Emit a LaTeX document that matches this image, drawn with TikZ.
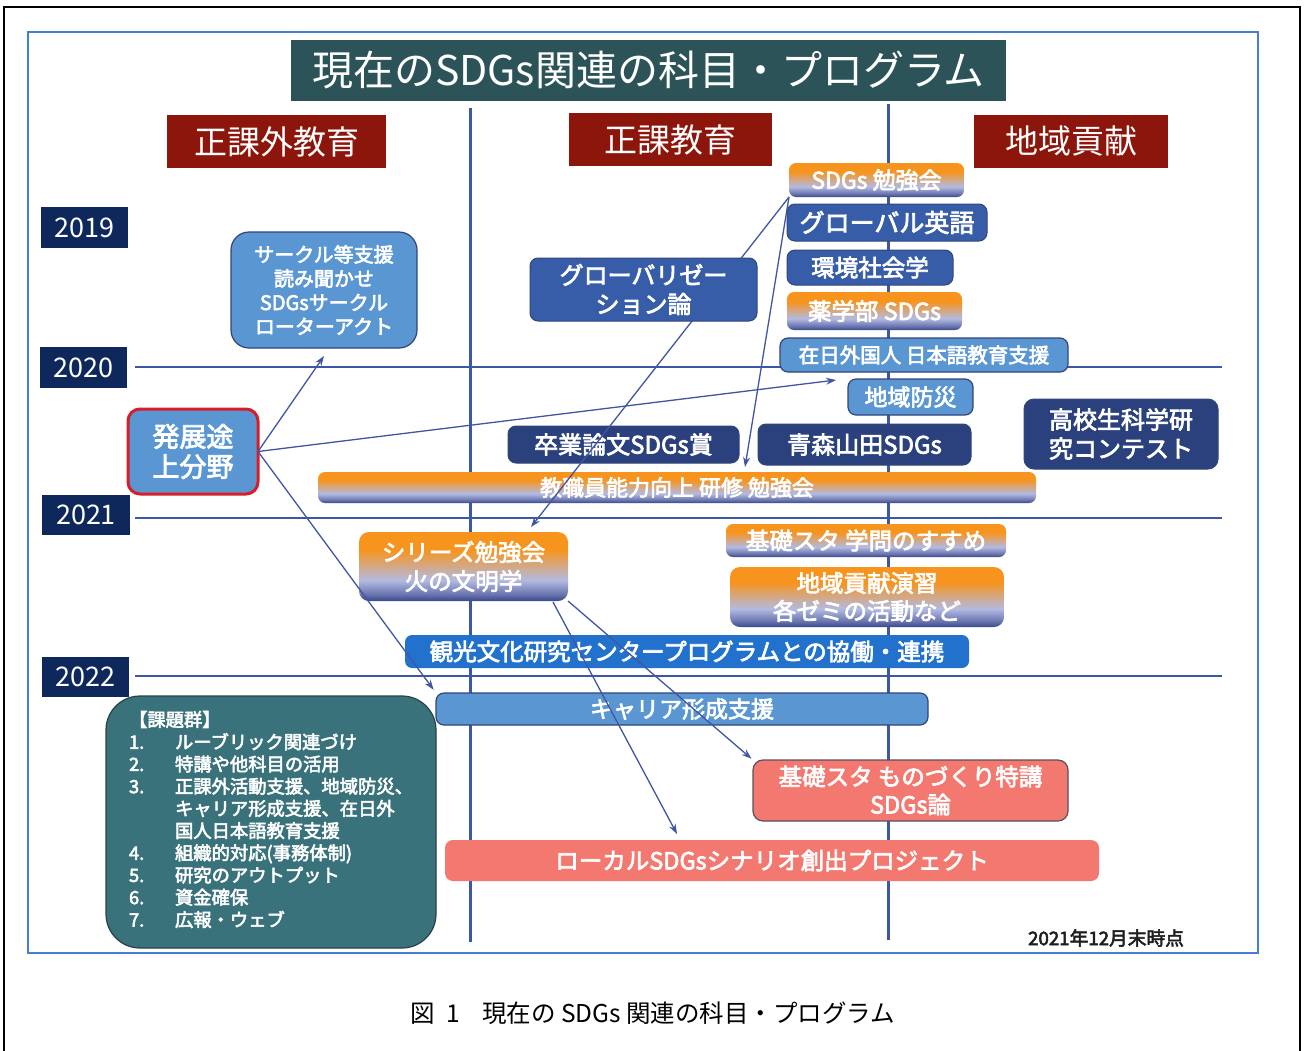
\documentclass[tikz,border=0pt]{standalone}
\usepackage{fontspec}
\setmainfont{Noto Sans CJK JP}
\newfontfamily\medfont{Noto Sans CJK JP}[FakeBold=3]
\usetikzlibrary{arrows.meta}
\definecolor{titlec}{RGB}{44,83,87}
\definecolor{hdrc}{RGB}{140,22,12}
\definecolor{yrc}{RGB}{14,40,92}
\definecolor{lblue}{RGB}{90,150,210}
\definecolor{mblue}{RGB}{55,92,168}
\definecolor{navyb}{RGB}{42,65,125}
\definecolor{kankoc}{RGB}{34,114,205}
\definecolor{kadaic}{RGB}{58,114,124}
\definecolor{salmonc}{RGB}{242,120,112}
\definecolor{bordc}{RGB}{50,70,120}
\definecolor{linec}{RGB}{60,88,165}
\definecolor{arrc}{RGB}{65,85,165}
\definecolor{framec}{RGB}{70,125,215}
\definecolor{gtop}{RGB}{247,148,30}
\definecolor{gmid}{RGB}{178,186,226}
\definecolor{gbot}{RGB}{58,72,140}
\pgfdeclareverticalshading{ograd}{100bp}{color(0bp)=(gbot); color(25bp)=(gbot); color(30bp)=(gbot!60!gmid); color(40bp)=(gmid); color(62bp)=(gtop); color(100bp)=(gtop)}
\begin{document}
\begin{tikzpicture}[x=1pt,y=-1pt,
  every node/.style={inner sep=0pt, outer sep=0pt},
  base/.style={rectangle, align=center, text=white},
  fs/.style={font=\medfont\fontsize{#1}{30}\selectfont},
  titlebox/.style={base, fill=titlec, font=\fontsize{41}{48}\selectfont},
  hdr/.style={base, fill=hdrc, font=\fontsize{33}{38}\selectfont},
  yr/.style={base, fill=yrc, font=\fontsize{27}{30}\selectfont},
  lbox/.style={base, fill=lblue, draw=bordc, line width=1.2pt, rounded corners=8pt},
  mbox/.style={base, fill=mblue, draw=bordc, line width=1pt, rounded corners=8pt},
  nbox/.style={base, fill=navyb, draw=bordc, line width=1pt, rounded corners=8pt},
  gbox/.style={base, shade, shading=ograd, rounded corners=7pt},
  sbox/.style={base, fill=salmonc, rounded corners=8pt},
  vline/.style={draw=linec, line width=3pt},
  hline/.style={draw=linec, line width=1.5pt},
  arr/.style={draw=arrc, line width=1.3pt, -{Stealth[length=10pt,width=7pt]}}
]
\useasboundingbox (0,0) rectangle (1306,1050);
\fill[white] (0,0) rectangle (1306,1050);
% frames
\draw[black, line width=2pt] (4,1052) -- (4,7) -- (1300,7) -- (1300,1052);
\draw[framec, line width=2pt] (28,32) rectangle (1258,953);

% grid lines
\draw[vline] (470,108) -- (470,942);
\draw[vline] (888,104) -- (888,940);
\draw[hline] (135,367) -- (1222,367);
\draw[hline] (135,518) -- (1222,518);
\draw[hline] (135,676) -- (1222,676);

% title and headers
\node[titlebox, minimum width=715pt, minimum height=61pt] (title) at (648.5,70.5) {現在のSDGs関連の科目・プログラム};
\node[hdr, minimum width=219pt, minimum height=53pt] (h1) at (276.5,141.5) {正課外教育};
\node[hdr, minimum width=203pt, minimum height=53pt] (h2) at (670.5,139.5) {正課教育};
\node[hdr, minimum width=194pt, minimum height=53pt] (h3) at (1071,141.5) {地域貢献};

% years
\node[yr, minimum width=87pt, minimum height=41pt] (y19) at (84.5,227.5) {2019};
\node[yr, minimum width=87pt, minimum height=41pt] (y20) at (83.5,367.5) {2020};
\node[yr, minimum width=88pt, minimum height=40pt] (y21) at (86,515) {2021};
\node[yr, minimum width=87pt, minimum height=40pt] (y22) at (85.5,677) {2022};

% left column
\node[lbox, rounded corners=18pt, minimum width=186pt, minimum height=116pt, font=\medfont\fontsize{20}{24}\selectfont] (circle) at (324,290) {サークル等支援\\読み聞かせ\\SDGsサークル\\ローターアクト};
\node[lbox, draw={rgb,255:red,215;green,30;blue,40}, line width=3pt, rounded corners=12pt, minimum width=130pt, minimum height=85pt, font=\medfont\fontsize{27}{30}\selectfont] (hatten) at (193,451.5) {発展途\\上分野};

% middle / right boxes
\node[gbox, minimum width=175pt, minimum height=34pt, fs=23] (sdgs) at (876.5,180) {SDGs 勉強会};
\node[mbox, minimum width=200pt, minimum height=37pt, fs=25] (geng) at (887,222.5) {グローバル英語};
\node[mbox, minimum width=166pt, minimum height=35pt, fs=23.5] (kankyo) at (870,267.5) {環境社会学};
\node[gbox, minimum width=175pt, minimum height=38pt, fs=23.5] (yaku) at (874.5,311) {薬学部 SDGs};
\node[lbox, minimum width=288pt, minimum height=34pt, fs=20.5] (zainichi) at (924,355) {在日外国人 日本語教育支援};
\node[lbox, minimum width=125pt, minimum height=36pt, fs=23] (bosai) at (910.5,397) {地域防災};
\node[nbox, minimum width=231pt, minimum height=37pt, fs=24] (sotsu) at (623.5,444.5) {卒業論文SDGs賞};
\node[nbox, minimum width=213pt, minimum height=41pt, fs=24] (aomori) at (864.5,444.5) {青森山田SDGs};
\node[nbox, rounded corners=10pt, minimum width=194pt, minimum height=70pt, font=\medfont\fontsize{24}{29}\selectfont] (koko) at (1121,434) {高校生科学研\\究コンテスト};
\node[gbox, minimum width=718pt, minimum height=31pt, fs=22] (kyoshoku) at (677,487.5) {教職員能力向上 研修 勉強会};
\node[gbox, rounded corners=10pt, minimum width=209pt, minimum height=69pt, font=\medfont\fontsize{23.5}{29}\selectfont] (series) at (463.5,566.5) {シリーズ勉強会\\火の文明学};
\node[gbox, minimum width=280pt, minimum height=33pt, fs=23.5] (gakumon) at (866,540.5) {基礎スタ 学問のすすめ};
\node[gbox, rounded corners=10pt, minimum width=274pt, minimum height=60pt, font=\medfont\fontsize{23.5}{28}\selectfont] (chiiki) at (867,597) {地域貢献演習\\各ゼミの活動など};
\node[base, fill=kankoc, rounded corners=7pt, minimum width=564pt, minimum height=33pt, fs=23.5] (kanko) at (687,651.5) {観光文化研究センタープログラムとの協働・連携};
\node[lbox, minimum width=492pt, minimum height=32pt, fs=23] (career) at (682,709) {キャリア形成支援};
\node[sbox, draw={rgb,255:red,90;green,80;blue,95}, line width=1.2pt, rounded corners=10pt, minimum width=315pt, minimum height=61pt, font=\medfont\fontsize{23.5}{28}\selectfont] (kisomono) at (910.5,790.5) {基礎スタ ものづくり特講\\SDGs論};
\node[sbox, minimum width=654pt, minimum height=41pt, fs=23.5] (local) at (772,860.5) {ローカルSDGsシナリオ創出プロジェクト};

% issues box
\node[base, fill=kadaic, draw={rgb,255:red,40;green,65;blue,75}, line width=1.2pt, rounded corners=34pt, minimum width=330pt, minimum height=252pt, font=\medfont\fontsize{18.3}{22.2}\selectfont] (kadai) at (271,822) {%
\begin{tabular}{@{}p{46pt}@{}l@{}}
\multicolumn{2}{@{}l@{}}{【課題群】}\\
1. & ルーブリック関連づけ\\
2. & 特講や他科目の活用\\
3. & 正課外活動支援、地域防災、\\
   & キャリア形成支援、在日外\\
   & 国人日本語教育支援\\
4. & 組織的対応(事務体制)\\
5. & 研究のアウトプット\\
6. & 資金確保\\
7. & 広報・ウェブ
\end{tabular}};

% arrows
\coordinate (a1e) at (324,356);
\coordinate (a2e) at (836,380);
\coordinate (a4e) at (531,527);
\coordinate (a5e) at (745,467);
\coordinate (a7s) at (553,602);
\coordinate (a7e) at (677,834);
\draw[arr] (hatten.east) -- (a1e);
\draw[arr] (hatten.east) -- (a2e);
\draw[arr, shorten >=4pt] (hatten.east) -- (career.north west);
\draw[arr] (sdgs.south west) -- (a4e);
\draw[arr] (sdgs.south west) -- (a5e);
\draw[arr, shorten >=2pt] (series.south east) -- (kisomono.north west);
\draw[arr] (a7s) -- (a7e);

% box drawn over the arrow that passes behind it
\node[mbox, minimum width=227pt, minimum height=63pt, font=\medfont\fontsize{24}{29}\selectfont] (glob) at (643.5,289.5) {グローバリゼー\\ション論};

% notes
\node[text={rgb,255:red,30;green,30;blue,30}, font=\medfont\fontsize{18.7}{20}\selectfont] (asof) at (1106,938) {2021年12月末時点};
\node[text=black, font=\fontsize{24.5}{28}\selectfont] (caption) at (653,1013) {図\hspace{0.45em}1\hspace{0.9em}現在の SDGs 関連の科目・プログラム};
\end{tikzpicture}
\end{document}
